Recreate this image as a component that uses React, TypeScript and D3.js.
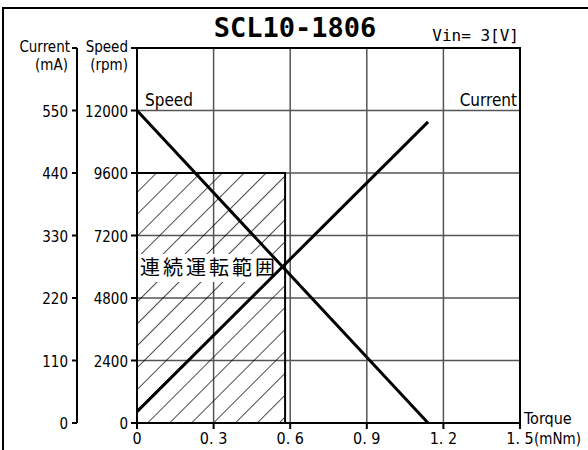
import React from 'react';
import * as d3 from 'd3';

// chart values
const speedTicks = [0, 2400, 4800, 7200, 9600, 12000];
const currentTicks = [0, 110, 220, 330, 440, 550];
const torqueTicks = [0, 0.3, 0.6, 0.9, 1.2, 1.5];
const torqueLabels = ['0', '0. 3', '0. 6', '0. 9', '1. 2', '1. 5'];
const speedLine: [number, number][] = [[0, 12000], [1.14, 0]];
const currentLine: [number, number][] = [[0, 20], [1.14, 530]];
const continuousTorque = 0.58;
const continuousSpeed = 9600;

const W = 588;
const H = 450;
const narrow = '"DejaVu Sans Condensed", "Liberation Sans Narrow", "DejaVu Sans", sans-serif';
const mono = '"DejaVu Sans Mono", "Liberation Mono", monospace';

export default function App() {
  const margin = { top: 48, right: 68, bottom: 27, left: 137 };
  const x = d3.scaleLinear().domain([0, 1.5]).range([margin.left, W - margin.right]);
  const ySpeed = d3.scaleLinear().domain([0, 14400]).range([H - margin.bottom, margin.top]);
  const yCurrent = d3.scaleLinear().domain([0, 660]).range([H - margin.bottom, margin.top]);

  const line = d3.line<[number, number]>();
  const speedPath = line(speedLine.map(([t, s]) => [x(t), ySpeed(s)]));
  const currentPath = line(currentLine.map(([t, c]) => [x(t), yCurrent(c)]));

  const x0 = x(0), x1 = x(1.5), yb = ySpeed(0), yt = ySpeed(14400);
  const curAxisX = 77;

  return (
    <svg width={W} height={H} style={{ position: 'absolute', left: 0, top: 0, background: '#fff' }}>
      <defs>
        <pattern id="hatch" patternUnits="userSpaceOnUse" width={15.5} height={15.5} patternTransform="rotate(45)">
          <line x1={0} y1={0} x2={0} y2={15.5} stroke="#000" strokeWidth={1.4} />
        </pattern>
      </defs>

      {/* outer frame */}
      <path d={`M3,${H} L3,8 L${W},8`} fill="none" stroke="#000" strokeWidth={2} />

      {/* title */}
      <text x={295} y={37} textAnchor="middle" fontFamily={mono} fontWeight="bold" fontSize={27}>SCL10-1806</text>
      <text x={519} y={41} textAnchor="end" fontFamily={mono} fontSize={16}>Vin= 3[V]</text>

      {/* grid */}
      {speedTicks.slice(1).map(s => (
        <line key={'h' + s} x1={x0} x2={x1} y1={ySpeed(s)} y2={ySpeed(s)} stroke="#555" strokeWidth={1.5} />
      ))}
      {torqueTicks.slice(1, -1).map(t => (
        <line key={'v' + t} x1={x(t)} x2={x(t)} y1={yt} y2={yb} stroke="#555" strokeWidth={1.5} />
      ))}

      {/* continuous operation range */}
      <rect x={x0} y={ySpeed(continuousSpeed)} width={x(continuousTorque) - x0} height={yb - ySpeed(continuousSpeed)}
        fill="url(#hatch)" stroke="#000" strokeWidth={2} />
      <rect x={x0 + 1} y={254} width={145} height={28} fill="#fff" />
      <text x={140} y={275} fontFamily='"Noto Sans CJK JP", sans-serif' fontSize={20} letterSpacing={3}>連続運転範囲</text>

      {/* plot border */}
      <rect x={x0} y={yt} width={x1 - x0} height={yb - yt} fill="none" stroke="#000" strokeWidth={2} />

      {/* curves */}
      <path d={speedPath || ''} fill="none" stroke="#000" strokeWidth={3} />
      <path d={currentPath || ''} fill="none" stroke="#000" strokeWidth={3} />
      <text x={145} y={106} fontFamily={narrow} fontSize={17}>Speed</text>
      <text x={517} y={106} textAnchor="end" fontFamily={narrow} fontSize={17}>Current</text>

      {/* speed axis */}
      <line x1={x0 - 6} x2={x0} y1={yt} y2={yt} stroke="#000" strokeWidth={2} />
      {speedTicks.map(s => (
        <g key={'s' + s}>
          <line x1={x0 - 6} x2={x0} y1={ySpeed(s)} y2={ySpeed(s)} stroke="#000" strokeWidth={2} />
          <text x={x0 - 9} y={ySpeed(s) + 6} textAnchor="end" fontFamily={narrow} fontSize={15}>{s}</text>
        </g>
      ))}
      <text x={128} y={52} textAnchor="end" fontFamily={narrow} fontSize={15}>Speed</text>
      <text x={128} y={70} textAnchor="end" fontFamily={narrow} fontSize={15}>(rpm)</text>

      {/* current axis */}
      <line x1={curAxisX} x2={curAxisX} y1={yt} y2={yb} stroke="#000" strokeWidth={2} />
      <line x1={curAxisX - 5} x2={curAxisX} y1={yt} y2={yt} stroke="#000" strokeWidth={2} />
      {currentTicks.map(c => (
        <g key={'c' + c}>
          <line x1={curAxisX - 5} x2={curAxisX} y1={yCurrent(c)} y2={yCurrent(c)} stroke="#000" strokeWidth={2} />
          <text x={curAxisX - 9} y={yCurrent(c) + 6} textAnchor="end" fontFamily={narrow} fontSize={15}>{c}</text>
        </g>
      ))}
      <text x={70} y={52} textAnchor="end" fontFamily={narrow} fontSize={15}>Current</text>
      <text x={68} y={70} textAnchor="end" fontFamily={narrow} fontSize={15}>(mA)</text>

      {/* torque axis */}
      {torqueTicks.map((t, i) => (
        <g key={'t' + t}>
          <line x1={x(t)} x2={x(t)} y1={yb} y2={yb + 6} stroke="#000" strokeWidth={2} />
          <text x={x(t)} y={444} textAnchor="middle" fontFamily={narrow} fontSize={16}>{torqueLabels[i]}</text>
        </g>
      ))}
      <text x={x1 + 14} y={444} fontFamily={narrow} fontSize={15}>(mNm)</text>
      <text x={x1 + 4} y={424} fontFamily={narrow} fontSize={16}>Torque</text>
    </svg>
  );
}
